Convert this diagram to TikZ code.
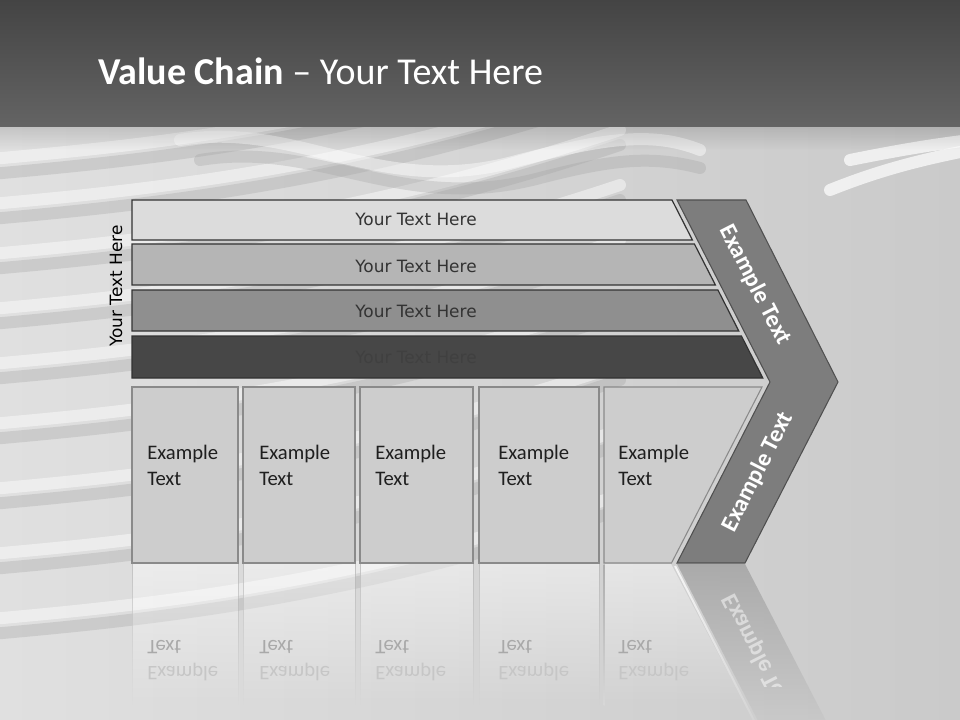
\documentclass[tikz,border=0pt]{standalone}
\usepackage{fontspec}
\setmainfont{Carlito}
\newfontfamily\vfont{DejaVu Sans}
\usetikzlibrary{fadings}
\definecolor{hdrtop}{HTML}{444444}
\definecolor{hdrbot}{HTML}{646464}
\definecolor{bgL}{HTML}{E0E0E0}
\definecolor{bgR}{HTML}{CACACA}
\definecolor{bandgray}{HTML}{A0A0A0}
\definecolor{barA}{HTML}{DCDCDC}
\definecolor{barB}{HTML}{B5B5B5}
\definecolor{barC}{HTML}{8F8F8F}
\definecolor{barD}{HTML}{474747}
\definecolor{boxfill}{HTML}{CDCDCD}
\definecolor{boxline}{HTML}{8A8A8A}
\definecolor{chev}{HTML}{7D7D7D}
\definecolor{chevline}{HTML}{505050}
\definecolor{reflA}{HTML}{C6C6C6}
\definecolor{reflB}{HTML}{A9A9A9}
\begin{document}
\begin{tikzpicture}[x=0.75pt,y=-0.75pt,
  barshape/.style={draw=black!80,line width=0.9pt},
  bartext/.style={font=\vfont\fontsize{12.7}{15}\selectfont,text=black!80,inner sep=0pt},
  boxshape/.style={fill=boxfill,draw=boxline,line width=0.8pt},
  boxtext/.style={font=\fontsize{15.5}{19.5}\selectfont,text=black!88,align=left,anchor=west,inner sep=0pt},
  chevtext/.style={font=\bfseries\fontsize{18}{20}\selectfont,text=white,inner sep=0pt},
  band/.style={bandgray,line width=9pt,opacity=.3,line cap=round},
  shine/.style={white,line width=9pt,opacity=.45,line cap=round},
  refltext/.style={font=\fontsize{15.5}{19.5}\selectfont,align=left,anchor=west,inner sep=0pt,transform shape},
]
\useasboundingbox (0,0) rectangle (960,720);
% ---------- background ----------
\shade[left color=bgL,right color=bgR] (0,127) rectangle (960,720);
\begin{scope}
\clip (0,127) rectangle (960,720);
\foreach \o in {0,45,95,150,205,265,330,395,460}{
  \draw[band] (-20,175+\o) .. controls (150,160+\o) and (350,140+\o) .. (620,50+\o);
  \draw[shine] (-20,160+\o) .. controls (150,145+\o) and (350,125+\o) .. (620,35+\o);
}
\draw[shine] (180,140) .. controls (300,120) and (380,200) .. (520,160) .. controls (600,140) and (650,130) .. (700,150);
\draw[band] (200,160) .. controls (320,140) and (400,215) .. (540,178) .. controls (610,160) and (650,155) .. (700,168);
\draw[shine,opacity=.7] (830,190) .. controls (880,170) and (920,160) .. (970,150);
\draw[shine,opacity=.7] (850,160) .. controls (900,150) and (930,145) .. (970,140);
\end{scope}
\fill[black,opacity=.12,path fading=south] (0,127) rectangle (960,150);
% ---------- header ----------
\shade[top color=hdrtop,bottom color=hdrbot] (0,0) rectangle (960,127);
\node[anchor=base west,text=white,font=\fontsize{28.5}{32}\selectfont,inner sep=0pt] (title) at (98,85) {\textbf{Value Chain} – Your Text Here};
% ---------- reflections ----------
\foreach \a/\b in {132/238,243/355,360/473,479/599}{
  \fill[white,opacity=.45,path fading=south] (\a,564) rectangle (\b,705);
  \draw[boxline!60,opacity=.8,path fading=south] (\a,564) -- (\a,705) (\b,564) -- (\b,705);
}
\fill[white,opacity=.45,path fading=south] (604,564) -- (671,564) -- (745,705) -- (604,705) -- cycle;
\shade[top color=boxline!70,bottom color=bgL!60!bgR] (603.5,564) rectangle (604.5,705);
\fill[chev!75,opacity=.75,path fading=south] (677,564) -- (745,564) -- (838,744) -- (770,744) -- cycle;
\draw[white,line width=1.5pt,opacity=.8,path fading=south] (675,566) -- (766,744);
\begin{scope}[shift={(0,563)},yscale=-1,shift={(0,-563)}]
  \node[refltext] (r1) at (147,465) {\color{reflA}Example\\\color{reflB}Text};
  \node[refltext] (r2) at (259,465) {\color{reflA}Example\\\color{reflB}Text};
  \node[refltext] (r3) at (375,465) {\color{reflA}Example\\\color{reflB}Text};
  \node[refltext] (r4) at (498,465) {\color{reflA}Example\\\color{reflB}Text};
  \node[refltext] (r5) at (618,465) {\color{reflA}Example\\\color{reflB}Text};
  \begin{scope}
    \clip (680,563) rectangle (860,440);
    \node[chevtext,rotate=63,transform shape,text=white,text opacity=.5] (r6) at (758,472) {Example Text};
  \end{scope}
\end{scope}
% ---------- bars ----------
\path[barshape,fill=barA] (132,200) -- (672,200) -- (692.4,240) -- (132,240) -- cycle;
\path[barshape,fill=barB] (132,244) -- (694.4,244) -- (715.4,285) -- (132,285) -- cycle;
\path[barshape,fill=barC] (132,290) -- (717.9,290) -- (738.8,331) -- (132,331) -- cycle;
\path[barshape,fill=barD] (132,336) -- (741.4,336) -- (762.8,378) -- (132,378) -- cycle;
\node[bartext] (t1) at (416,219) {Your Text Here};
\node[bartext] (t2) at (416,266) {Your Text Here};
\node[bartext] (t3) at (416,311) {Your Text Here};
\node[bartext,text=black!75] (t4) at (416,357) {Your Text Here};
\node[bartext,text=black,rotate=90] (side) at (116,286) {Your Text Here};
% ---------- boxes ----------
\path[boxshape] (132,387) rectangle (238,563);
\path[boxshape] (243,387) rectangle (355,563);
\path[boxshape] (360,387) rectangle (473,563);
\path[boxshape] (479,387) rectangle (599,563);
\path[boxshape] (604,387) -- (762,387) -- (671.5,563) -- (604,563) -- cycle;
\node[boxtext] (b1) at (147,465) {Example\\Text};
\node[boxtext] (b2) at (259,465) {Example\\Text};
\node[boxtext] (b3) at (375,465) {Example\\Text};
\node[boxtext] (b4) at (498,465) {Example\\Text};
\node[boxtext] (b5) at (618,465) {Example\\Text};
% ---------- chevron ----------
\path[draw=chevline,fill=chev,line width=0.8pt] (677,200) -- (746,200) -- (838,382) -- (745,563) -- (677,563) -- (770,382) -- cycle;
\node[chevtext,rotate=-63] (c1) at (755,285) {Example Text};
\node[chevtext,rotate=63] (c2) at (758,472) {Example Text};
\end{tikzpicture}
\end{document}
